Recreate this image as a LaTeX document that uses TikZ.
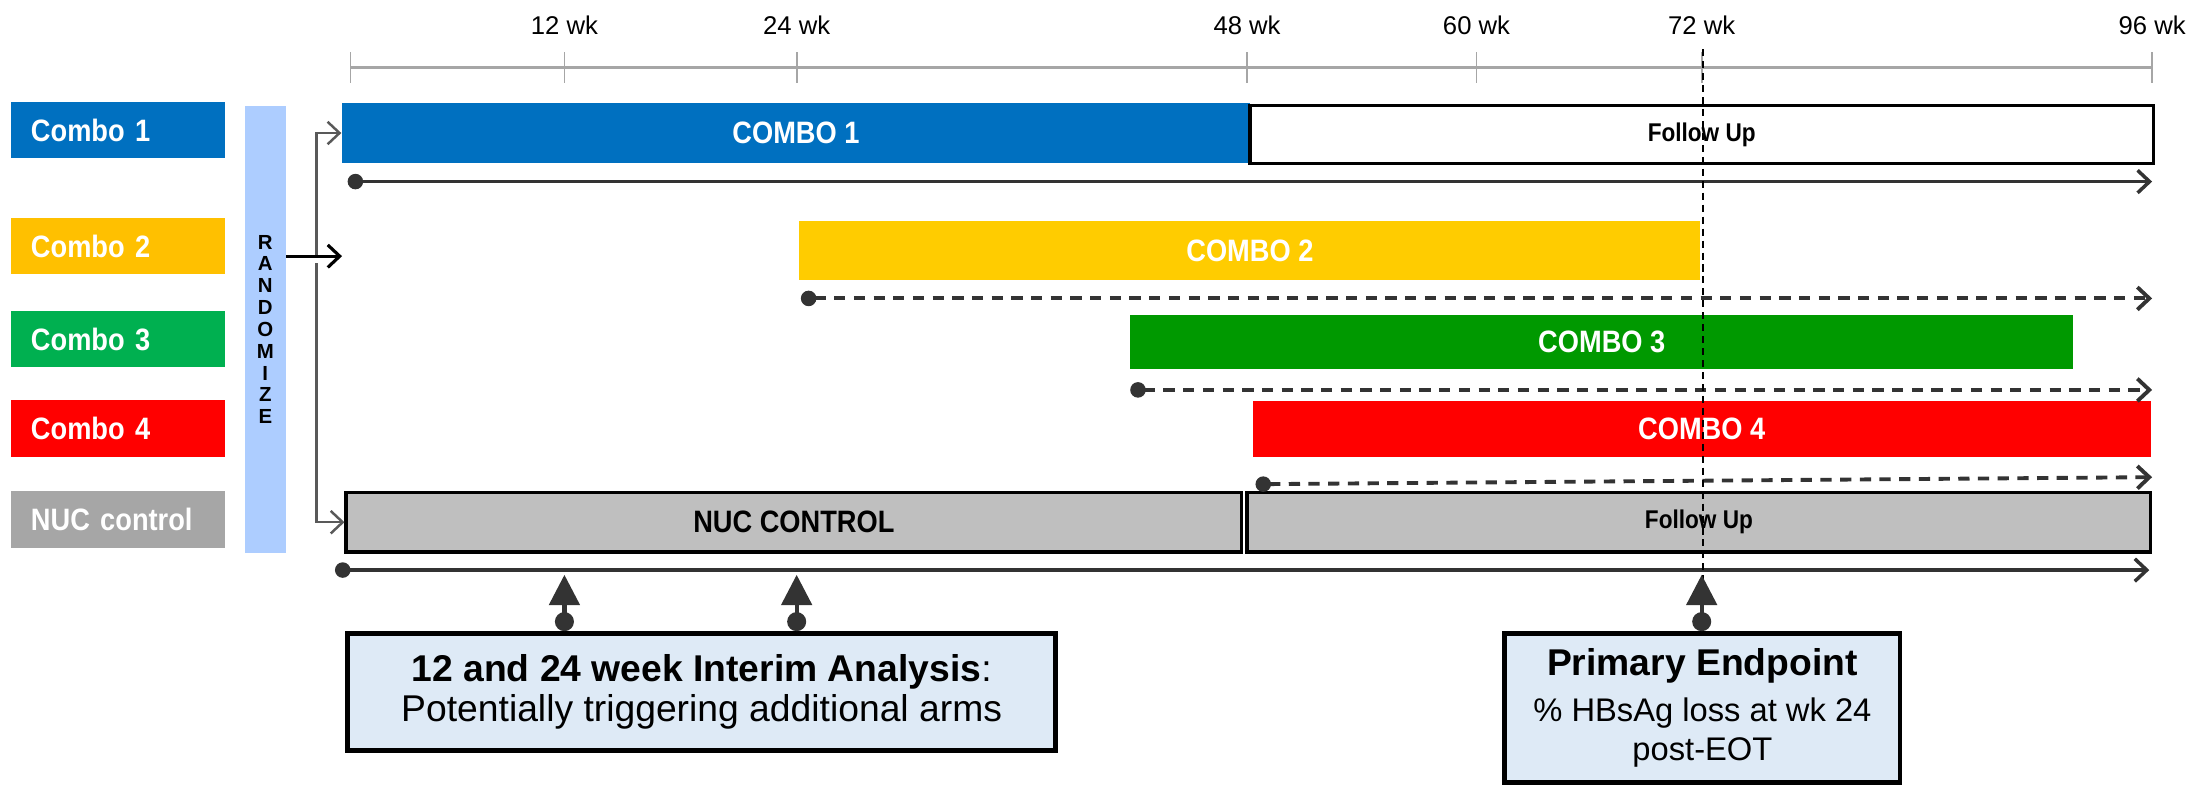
\documentclass[tikz,border=0pt]{standalone}
\usepackage{fontspec}
\setmainfont{Liberation Sans}
\newfontfamily\narrowfont[FakeStretch=0.88]{Liberation Sans}
\usepackage{tikz}
\usetikzlibrary{arrows.meta}
\usetikzlibrary{positioning}

\newcommand{\pxl}{0.014075cm}
\definecolor{leg1}{HTML}{0070C0}
\definecolor{leg2}{HTML}{FFC000}
\definecolor{leg3}{HTML}{00B050}
\definecolor{leg4}{HTML}{FF0000}
\definecolor{legnuc}{HTML}{A6A6A6}
\definecolor{combo1}{HTML}{0070C0}
\definecolor{combo2}{HTML}{FFCC00}
\definecolor{combo3}{HTML}{009900}
\definecolor{combo4}{HTML}{FF0000}
\definecolor{ctrlgray}{HTML}{BFBFBF}
\definecolor{randblue}{HTML}{ADCDFF}
\definecolor{notefill}{HTML}{DEEAF6}
\definecolor{axisgray}{HTML}{A6A6A6}
\definecolor{trackgray}{HTML}{333333}
\definecolor{linegray}{HTML}{595959}

\tikzset{
  legend/.style={minimum width=152*\pxl, minimum height=40*\pxl, inner xsep=14*\pxl,
    inner ysep=0pt, text width=124*\pxl, align=left, text=white,
    font=\narrowfont\bfseries\fontsize{8.8}{10}\selectfont},
  bar/.style={inner sep=0pt, text=white, font=\narrowfont\bfseries\fontsize{8.8}{10}\selectfont},
  fubox/.style={draw=black, line width=1pt, inner sep=0pt,
    font=\narrowfont\bfseries\fontsize{7.3}{8}\selectfont},
  ctrlbox/.style={draw=black, line width=1pt, fill=ctrlgray, inner sep=0pt,
    font=\narrowfont\bfseries\fontsize{8.8}{10}\selectfont},
  randbar/.style={fill=randblue, minimum width=29*\pxl, minimum height=318*\pxl,
    inner sep=0pt, align=center, font=\bfseries\fontsize{5.8}{6.2}\selectfont},
  notebox/.style={draw=black, line width=1.3pt, fill=notefill, inner sep=0pt, align=center},
  wklabel/.style={font=\fontsize{7.3}{8}\selectfont, text=black},
  axisline/.style={draw=axisgray, line width=0.75pt},
  wktick/.style={draw=axisgray, line width=0.5pt},
  track/.style={draw=trackgray, line width=1pt,
    arrows={Circle[length=4.4pt]-Straight Barb[length=3.4pt,width=6.4pt]}},
  dashtrack/.style={track, line width=1.1pt, dash pattern=on 3.2pt off 2.4pt},
  randline/.style={draw=linegray, line width=0.7pt,
    arrows={-Straight Barb[length=3.4pt,width=6.4pt]}},
  uparr/.style={draw=trackgray, line width=1.2pt,
    arrows={Circle[length=5.4pt]-Triangle[length=8.6pt,width=8.6pt]}},
  endline/.style={draw=black, line width=0.6pt, dash pattern=on 2pt off 1.4pt}
}

\begin{document}
\begin{tikzpicture}[x=\pxl, y=-\pxl]
\useasboundingbox (0,0) rectangle (1568,557);

% time axis
\coordinate (wk0) at (249,48);
\foreach \x/\w in {401/12, 566/24, 886/48, 1049/60, 1209/72, 1529/96} {
  \coordinate (wk\w) at (\x,48);
  \node[wklabel] (lbl\w) at (\x,18) {\w\ wk};
}
\draw[axisline] (wk0) -- (wk96);
\foreach \x in {249,401,566,886,1049,1209,1529}
  \draw[wktick] (\x,37) -- (\x,59);

% arm names
\node[legend, fill=leg1] (leg1) at (84,92.5) {Combo 1};
\node[legend, fill=leg2] (leg2) at (84,175) {Combo 2};
\node[legend, fill=leg3] (leg3) at (84,241) {Combo 3};
\node[legend, fill=leg4] (leg4) at (84,304.5) {Combo 4};
\node[legend, fill=legnuc] (legnuc) at (84,369) {NUC control};

\node[randbar] (rand) at (188.5,234) {R\\A\\N\\D\\O\\M\\I\\Z\\E};

% treatment bars
\node[bar, fill=combo1, minimum width=645*\pxl, minimum height=43*\pxl] (cmb1) at (565.5,94.5) {COMBO 1};
\node[fubox, fill=white, minimum width=642*\pxl, minimum height=41*\pxl] (fu1) at (1209,95.5) {Follow Up};
\node[bar, fill=combo2, minimum width=640*\pxl, minimum height=42*\pxl] (cmb2) at (888,178) {COMBO 2};
\node[bar, fill=combo3, minimum width=670*\pxl, minimum height=38*\pxl] (cmb3) at (1138,243) {COMBO 3};
\node[bar, fill=combo4, minimum width=638*\pxl, minimum height=40*\pxl] (cmb4) at (1209,305) {COMBO 4};
\node[ctrlbox, minimum width=636*\pxl, minimum height=42*\pxl] (nuc) at (564,371) {NUC CONTROL};
\node[fubox, fill=ctrlgray, minimum width=642*\pxl, minimum height=42*\pxl] (fu2) at (1207,371) {Follow Up};

% randomisation
\coordinate (split) at (225,182);
\coordinate (arm2) at (243,182);
\draw[randline] (split) |- (cmb1.west);
\draw[randline] (split) ++(0,5) |- (nuc.west);
\draw[randline, draw=black, line width=0.9pt] (rand.east |- split) -- (arm2);

% follow-up tracks
\coordinate (t1s) at (247,129);  \coordinate (t1e) at (1529,129);
\coordinate (t2s) at (569,212);  \coordinate (t2e) at (1529,212);
\coordinate (t3s) at (803,277);  \coordinate (t3e) at (1529,277);
\coordinate (t4s) at (892,344);  \coordinate (t4e) at (1529,339);
\coordinate (t5s) at (238,405);  \coordinate (t5e) at (1527,405);
\draw[track] (t1s) -- (t1e);
\draw[dashtrack] (t2s) -- (t2e);
\draw[dashtrack] (t3s) -- (t3e);
\draw[dashtrack] (t4s) -- (t4e);
\draw[track] (t5s) -- (t5e);

% endpoint line
\coordinate (eptop) at (1210,35);
\coordinate (epbot) at (1210,418);
\draw[endline] (eptop) -- (epbot);

% analysis boxes
\node[notebox, minimum width=503*\pxl, minimum height=83*\pxl,
  font=\fontsize{10.6}{11.4}\selectfont] (interim) at (498.5,491.5)
  {\textbf{12 and 24 week Interim Analysis}:\\Potentially triggering additional arms};
\node[notebox, minimum width=281*\pxl, minimum height=106*\pxl,
  font=\fontsize{9.3}{11}\selectfont] (primary) at (1209.5,503)
  {{\bfseries\fontsize{10.6}{12}\selectfont Primary Endpoint}\\[2pt]\% HBsAg loss at wk 24\\post-EOT};

\draw[uparr] (interim.north -| wk12) -- ++(0,-40);
\draw[uparr] (interim.north -| wk24) -- ++(0,-40);
\draw[uparr] (primary.north -| wk72) -- ++(0,-40);
\end{tikzpicture}
\end{document}
